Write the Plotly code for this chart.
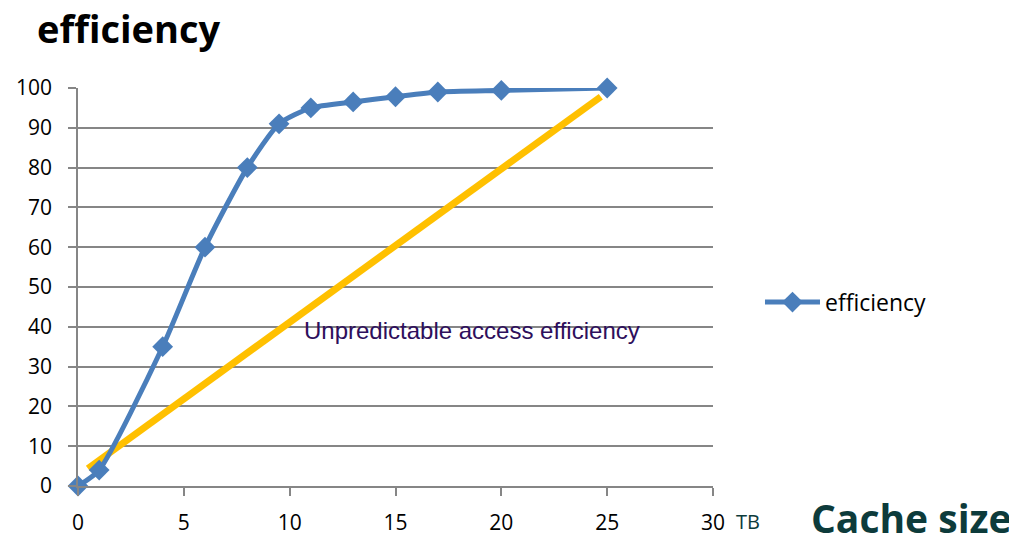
import plotly.graph_objects as go

cache_tb = [0, 1, 4, 6, 8, 9.5, 11, 13, 15, 17, 20, 25]
efficiency = [0, 4, 35, 60, 80, 91, 95, 96.5, 97.8, 99, 99.4, 100]

trend_x = [0.47, 24.7]
trend_y = [4.4, 97.8]

x_ticks = [0, 5, 10, 15, 20, 25, 30]
y_ticks = [0, 10, 20, 30, 40, 50, 60, 70, 80, 90, 100]

fig = go.Figure()
fig.add_trace(go.Scatter(
    x=trend_x, y=trend_y, mode="lines",
    line=dict(color="#ffc000", width=7),
    showlegend=False, cliponaxis=False,
))
fig.add_trace(go.Scatter(
    x=cache_tb, y=efficiency, mode="lines+markers", name="efficiency",
    line=dict(color="#4a7ebb", width=5, shape="spline", smoothing=0.6),
    marker=dict(symbol="diamond", size=16, color="#4a7ebb"),
    cliponaxis=False,
))

fig.update_layout(
    width=1009, height=529,
    margin=dict(l=70, r=304, t=80, b=51, autoexpand=False),
    paper_bgcolor="white", plot_bgcolor="white",
    font=dict(family="Open Sans, Liberation Sans", size=21, color="black"),
    showlegend=True,
    legend=dict(x=1.074, y=0.462, xanchor="left", yanchor="middle",
                font=dict(family="Open Sans, Liberation Sans", size=23, color="black"),
                bgcolor="rgba(0,0,0,0)", itemwidth=55),
    xaxis=dict(range=[0, 30], tickvals=x_ticks, showgrid=False,
               showline=True, linecolor="#868686", linewidth=1.5,
               ticks="outside", ticklen=8, tickcolor="#868686", tickwidth=1.5,
               ticklabelstandoff=9,
               zeroline=False, fixedrange=True),
    yaxis=dict(range=[0, 100], tickvals=y_ticks, showgrid=True,
               gridcolor="#868686", gridwidth=1.5,
               showline=True, linecolor="#868686", linewidth=1.5,
               ticks="outside", ticklen=8, tickcolor="#868686", tickwidth=1.5,
               ticklabelstandoff=12,
               zeroline=False, fixedrange=True),
    annotations=[
        dict(text="<b>efficiency</b>", xref="paper", yref="paper", x=-0.067, y=1.151,
             xanchor="left", yanchor="middle", showarrow=False,
             font=dict(family="Open Sans, Noto Sans", size=38, color="black")),
        dict(text="Unpredictable access efficiency", xref="x", yref="y",
             x=10.6, y=39, xanchor="left", yanchor="middle", showarrow=False,
             font=dict(family="Liberation Sans, Arial", size=24, color="#2e0f5c")),
        dict(text="TB", xref="paper", yref="paper", x=1.033, y=-0.088,
             xanchor="left", yanchor="middle", showarrow=False,
             font=dict(family="Open Sans, Noto Sans", size=20, color="#0d3b3b")),
        dict(text="<b>Cache size</b>", xref="paper", yref="paper", x=1.151, y=-0.08,
             xanchor="left", yanchor="middle", showarrow=False,
             font=dict(family="Open Sans, Noto Sans", size=39, color="#0d3b3b")),
    ],
)

fig.write_html("out.html")
